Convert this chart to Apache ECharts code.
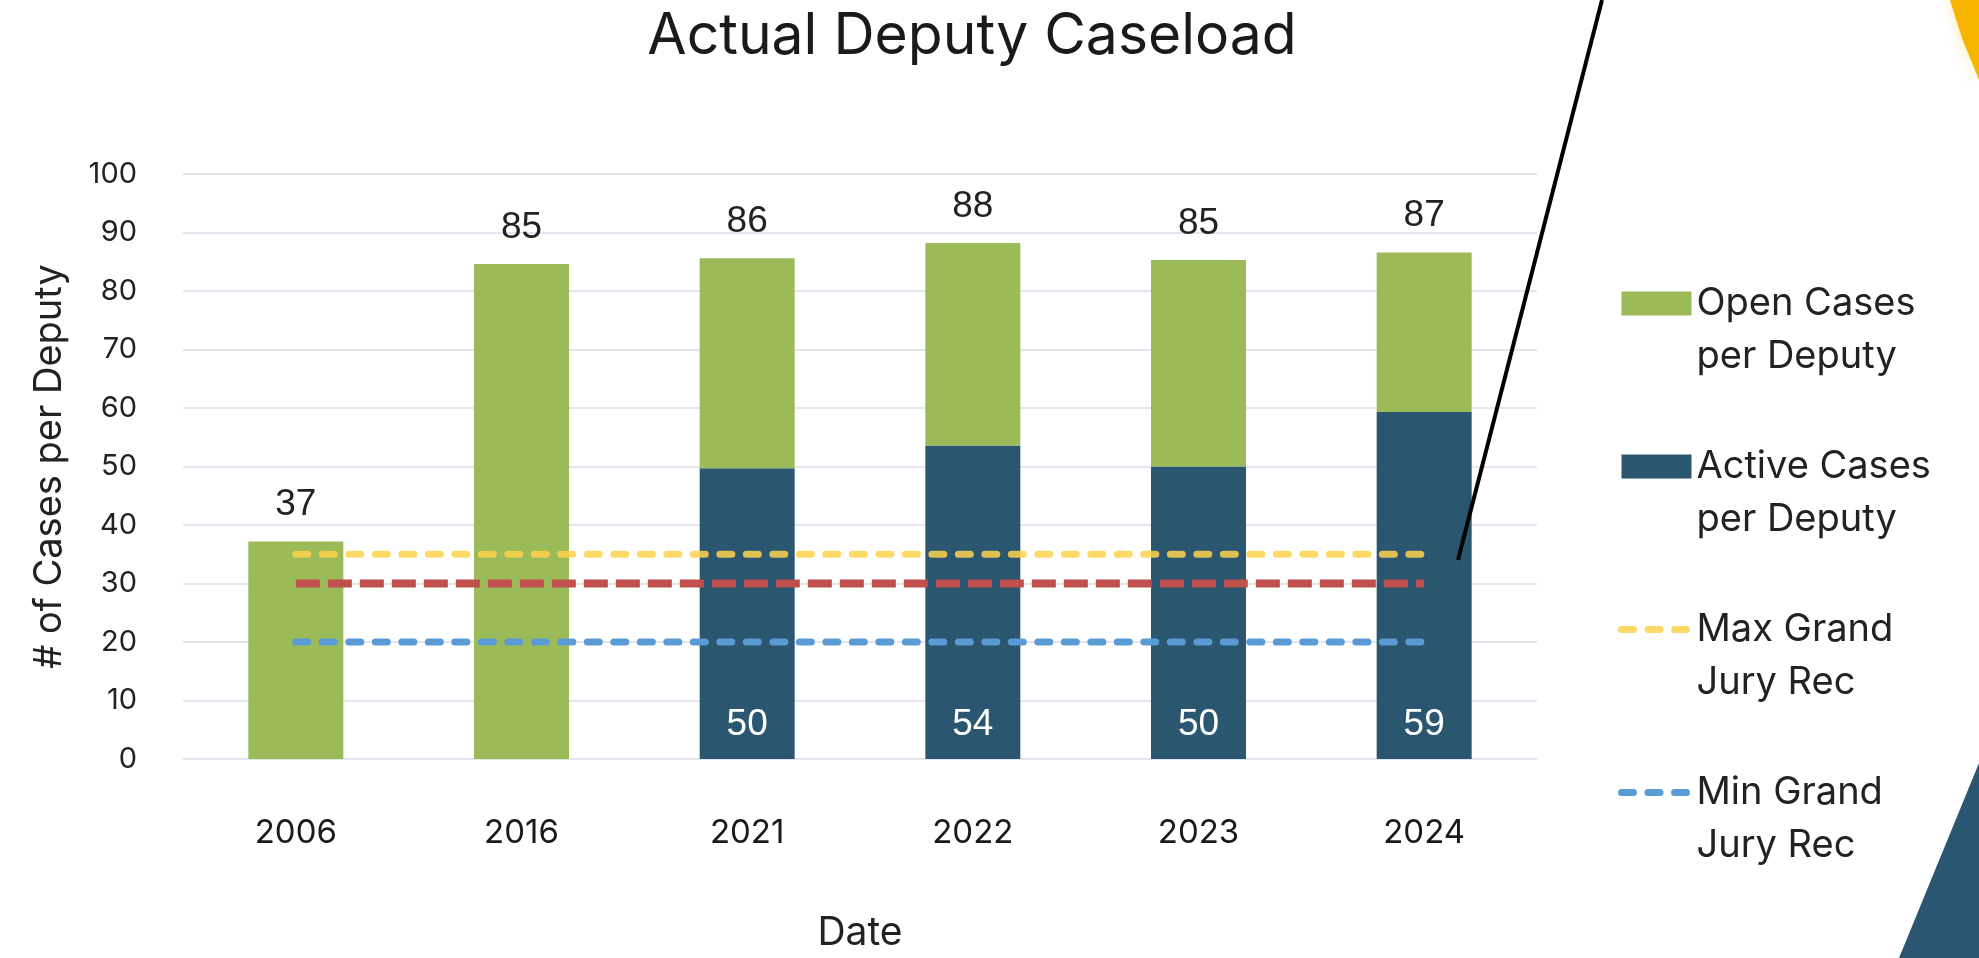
<!DOCTYPE html>
<html>
<head>
<meta charset="utf-8">
<title>Actual Deputy Caseload</title>
<script src="https://cdn.jsdelivr.net/npm/echarts@6/dist/echarts.min.js"></script>
<style>
  html, body { margin: 0; padding: 0; background: #fff; }
  #chart { width: 1979px; height: 958px; }
</style>
</head>
<body>
<div id="chart"></div>
<script>
// values
var categories = ['2006', '2016', '2021', '2022', '2023', '2024'];
var activeCases = [null, null, 49.7, 53.6, 50.0, 59.3];
var openCases = [37.2, 84.6, 35.9, 34.6, 35.3, 27.3];
var maxGrandJuryRec = [35, 35, 35, 35, 35, 35];
var midRec = [30, 30, 30, 30, 30, 30];
var minGrandJuryRec = [20, 20, 20, 20, 20, 20];

var OPEN = 'Open Cases\nper Deputy';
var ACTIVE = 'Active Cases\nper Deputy';
var MAXREC = 'Max Grand\nJury Rec';
var MINREC = 'Min Grand\nJury Rec';

var uiFont = 'Inter, "Noto Sans", sans-serif';
var numFont = '"Liberation Sans", Arial, sans-serif';

var yellowDash = { color: '#ffd24d', width: 7, type: [12, 14.5], cap: 'round', opacity: 0.85 };
var blueDash = { color: '#5b9bd5', width: 7, type: [12, 14.5], cap: 'round' };

var myChart = echarts.init(document.getElementById('chart'));

var option = {
    backgroundColor: '#ffffff',
    animation: false,
    title: {
        text: 'Actual Deputy Caseload',
        left: 972,
        top: 8,
        padding: 0,
        textAlign: 'center',
        textStyle: { fontFamily: uiFont, fontSize: 57, fontWeight: 'normal', color: '#1a1a1a' }
    },
    legend: {
        data: [
            { name: OPEN, icon: 'rect' },
            { name: ACTIVE, icon: 'rect' },
            { name: MAXREC, itemStyle: { opacity: 0 }, lineStyle: yellowDash },
            { name: MINREC, itemStyle: { opacity: 0 }, lineStyle: blueDash }
        ],
        orient: 'vertical',
        left: 1618,
        top: 224,
        padding: 0,
        itemGap: 4,
        itemWidth: 70,
        itemHeight: 24,
        selectedMode: false,
        // leading blank line keeps the first line level with the swatch
        formatter: function (name) { return '\n' + name; },
        textStyle: {
            fontFamily: uiFont,
            fontSize: 38,
            lineHeight: 53,
            color: '#222'
        }
    },
    grid: { left: 183, right: 442, top: 174, bottom: 194, containLabel: false },
    xAxis: {
        type: 'category',
        data: categories,
        name: 'Date',
        nameLocation: 'middle',
        nameGap: 155,
        nameTextStyle: { fontFamily: uiFont, fontSize: 39, color: '#222' },
        axisLine: { show: false },
        axisTick: { show: false },
        axisLabel: { fontFamily: uiFont, fontSize: 33, color: '#1a1a1a', margin: 58 }
    },
    yAxis: {
        type: 'value',
        min: 0,
        max: 100,
        interval: 10,
        name: '# of Cases per Deputy',
        nameLocation: 'middle',
        nameGap: 114,
        nameTextStyle: { fontFamily: uiFont, fontSize: 38, color: '#222' },
        axisLabel: { fontFamily: uiFont, fontSize: 29, color: '#222', margin: 46 },
        splitLine: { lineStyle: { color: '#e3e6ee', width: 2 } }
    },
    series: [
        {
            name: ACTIVE,
            type: 'bar',
            stack: 'cases',
            barWidth: 95,
            data: activeCases,
            itemStyle: { color: '#2a5670' },
            label: {
                show: true,
                position: 'insideBottom',
                distance: 16,
                fontFamily: numFont,
                fontSize: 37,
                color: '#ffffff',
                formatter: function (p) { return Math.round(p.value); }
            }
        },
        {
            name: OPEN,
            type: 'bar',
            stack: 'cases',
            barWidth: 95,
            data: openCases,
            itemStyle: { color: '#9bbb59' },
            label: {
                show: true,
                position: 'top',
                distance: 18,
                fontFamily: numFont,
                fontSize: 37,
                color: '#222',
                formatter: function (p) {
                    return Math.round((activeCases[p.dataIndex] || 0) + openCases[p.dataIndex]);
                }
            }
        },
        {
            name: MAXREC,
            type: 'line',
            data: maxGrandJuryRec,
            symbol: 'none',
            z: 5,
            lineStyle: yellowDash,
            itemStyle: { color: '#ffd24d' }
        },
        {
            name: 'Rec',
            type: 'line',
            data: midRec,
            symbol: 'none',
            z: 5,
            lineStyle: { color: '#c0504d', width: 8, type: [24, 8] },
            itemStyle: { color: '#c0504d' }
        },
        {
            name: MINREC,
            type: 'line',
            data: minGrandJuryRec,
            symbol: 'none',
            z: 5,
            lineStyle: blueDash,
            itemStyle: { color: '#5b9bd5' }
        }
    ],
    graphic: [
        {
            type: 'line',
            z: 100,
            shape: { x1: 1602, y1: 0, x2: 1458, y2: 560 },
            style: { stroke: '#000', lineWidth: 4 }
        },
        {
            type: 'polygon',
            z: 100,
            shape: { points: [[1950, 0], [1962, 38], [1979, 80], [1979, 0]] },
            style: { fill: '#f4b400', shadowBlur: 14, shadowColor: 'rgba(244,180,0,0.35)' }
        },
        {
            type: 'polygon',
            z: 100,
            shape: { points: [[1979, 763], [1979, 958], [1899, 958]] },
            style: { fill: '#2b5672' }
        }
    ]
};

myChart.setOption(option);
window.addEventListener('resize', function () { myChart.resize(); });
</script>
</body>
</html>
